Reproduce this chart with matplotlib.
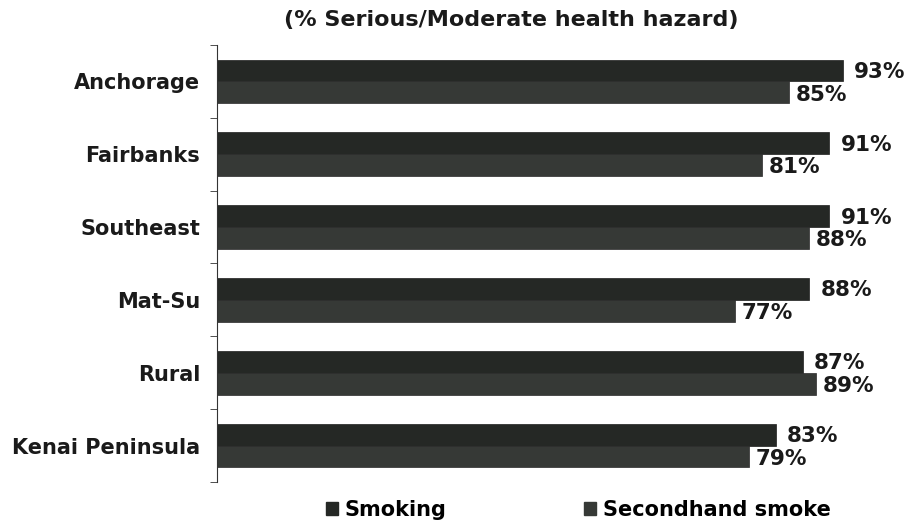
import matplotlib
matplotlib.use("Agg")
import matplotlib.pyplot as plt
import numpy as np
from matplotlib.patches import Patch

categories = ["Anchorage", "Fairbanks", "Southeast", "Mat-Su", "Rural", "Kenai Peninsula"]
smoking = [93, 91, 91, 88, 87, 83]
secondhand = [85, 81, 88, 77, 89, 79]
series_names = ["Smoking", "Secondhand smoke"]
title = "(% Serious/Moderate health hazard)"

plt.rcParams['font.family'] = ['DejaVu Sans']
fig = plt.figure(figsize=(9.13, 5.27), dpi=100)
ax = fig.add_axes([217/913, 1-482/527, (890-217)/913, (482-45)/527])

n = len(categories)
y = np.arange(n)
h = 0.3
c1 = "#252825"
c2 = "#363936"
ax.barh(y - h/2, smoking, height=h, color=c1, edgecolor="#1e1e1e", linewidth=0.5)
ax.barh(y + h/2, secondhand, height=h, color=c2, edgecolor="#2a2a2a", linewidth=0.5)

txt = "#1a1a1a"
for i in range(n):
    ax.text(smoking[i] + 1.7, y[i] - h/2 + 0.02, f"{smoking[i]}%", va="center", ha="left",
            fontsize=15.5, fontweight="bold", color=txt)
    ax.text(secondhand[i] + 1.0, y[i] + h/2 + 0.03, f"{secondhand[i]}%", va="center", ha="left",
            fontsize=15.5, fontweight="bold", color=txt)

ax.set_xlim(0, 100)
ax.set_ylim(n - 0.5, -0.5)
ax.set_yticks(y)
ax.set_yticklabels(categories, fontsize=15, fontweight="bold", color=txt)
ax.set_yticks(np.arange(-0.5, n, 1.0), minor=True)
ax.tick_params(axis="y", which="major", length=0, pad=12)
ax.tick_params(axis="y", which="minor", length=5, direction="out", color="#333333")
ax.set_xticks([])
for s in ["top", "right", "bottom"]:
    ax.spines[s].set_visible(False)
ax.spines["left"].set_color("#333333")

fig.text(511/913, 1 - 20/527, title, ha="center", va="center", fontsize=16, fontweight="bold", color=txt)

handles = [Patch(facecolor=c1, edgecolor=c1), Patch(facecolor=c2, edgecolor=c2)]
fig.legend(handles, series_names, loc="center", bbox_to_anchor=(578/913, 1 - 510/527), ncol=2,
           frameon=False, prop={"weight": "bold", "size": 15}, handlelength=0.6, handleheight=0.6,
           handletextpad=0.3, columnspacing=6.6, borderpad=0)

fig.savefig("out.png", dpi=100)
